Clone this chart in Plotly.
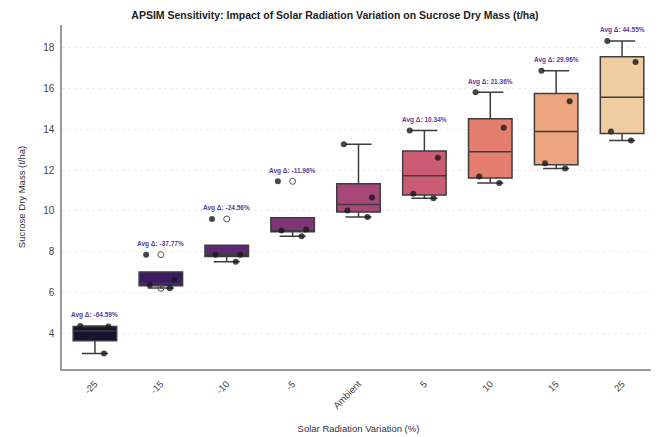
import colorsys
import plotly.graph_objects as go

# ---------------- data ----------------
categories = ["-25", "-15", "-10", "-5", "Ambient", "5", "10", "15", "25"]

points_m25 = [4.35, 4.33, 3.80, 3.00]
points_m15 = [7.85, 6.63, 6.36, 6.20]
points_m10 = [9.60, 7.85, 7.85, 7.50]
points_m5 = [11.45, 9.09, 9.04, 8.75]
points_amb = [13.27, 10.65, 10.02, 9.70]
points_p5 = [13.94, 12.60, 10.84, 10.62]
points_p10 = [15.82, 14.08, 11.69, 11.37]
points_p15 = [16.88, 15.38, 12.33, 12.08]
points_p25 = [18.34, 17.30, 13.90, 13.45]

q1_values = [3.63, 6.33, 7.76, 8.97, 9.95, 10.78, 11.61, 12.26, 13.79]
median_values = [4.10, 6.44, 7.85, 9.02, 10.31, 11.72, 12.90, 13.89, 15.58]
q3_values = [4.33, 7.00, 8.31, 9.66, 11.33, 12.94, 14.52, 15.76, 17.56]
lower_whisker = [3.00, 6.22, 7.50, 8.75, 9.70, 10.62, 11.37, 12.08, 13.45]
upper_whisker = [4.35, 7.00, 8.31, 9.66, 13.27, 13.94, 15.82, 16.88, 18.34]

avg_delta_labels = ["Avg Δ: -64.59%", "Avg Δ: -37.77%", "Avg Δ: -24.56%", "Avg Δ: -11.96%",
                    "", "Avg Δ: 10.34%", "Avg Δ: 21.36%", "Avg Δ: 29.96%", "Avg Δ: 44.55%"]

all_points = [points_m25, points_m15, points_m10, points_m5, points_amb,
              points_p5, points_p10, points_p15, points_p25]

# ---------------- style ----------------
magma9 = ["#140e36", "#3b0f70", "#641a80", "#8c2981", "#b73779",
          "#de4968", "#f7705c", "#fe9f6d", "#fecf92"]


def desaturate(hexcol, prop=0.75):
    h = hexcol.lstrip("#")
    r, g, b = (int(h[i:i + 2], 16) / 255 for i in (0, 2, 4))
    hh, ll, ss = colorsys.rgb_to_hls(r, g, b)
    r, g, b = colorsys.hls_to_rgb(hh, ll, ss * prop)
    return "rgb(%d,%d,%d)" % (round(r * 255), round(g * 255), round(b * 255))


box_colors = [desaturate(c) for c in magma9]
FONT = "Liberation Sans, Arial, sans-serif"
EDGE = "#3d3d3d"
W, H = 659, 437

fig = go.Figure()

for i, cat in enumerate(categories):
    fig.add_trace(go.Box(
        x=[cat], q1=[q1_values[i]], median=[median_values[i]], q3=[q3_values[i]],
        lowerfence=[lower_whisker[i]], upperfence=[upper_whisker[i]],
        fillcolor=box_colors[i], line=dict(color=EDGE, width=1.5),
        width=0.66, whiskerwidth=0.6, boxpoints=False,
        showlegend=False, hoverinfo="skip"))

# fliers (hollow, at box centre)
for i, cat in enumerate(categories):
    outl = [v for v in all_points[i] if v > upper_whisker[i] + 1e-9 or v < lower_whisker[i] - 1e-9]
    if outl:
        fig.add_trace(go.Scatter(
            x=[cat] * len(outl), y=outl, mode="markers",
            marker=dict(symbol="circle-open", size=6, color="#555555", line=dict(width=1)),
            showlegend=False, hoverinfo="skip"))

# strip points
for i, cat in enumerate(categories):
    fig.add_trace(go.Box(
        x=[cat] * len(all_points[i]), y=all_points[i],
        boxpoints="all", jitter=0.8, pointpos=0, width=0.66,
        fillcolor="rgba(0,0,0,0)", line=dict(color="rgba(0,0,0,0)", width=0),
        marker=dict(color="rgba(25,25,25,0.8)", size=6),
        showlegend=False, hoveron="points"))

for i, cat in enumerate(categories):
    if avg_delta_labels[i]:
        fig.add_annotation(
            x=i, y=max(all_points[i]) + 0.52, text="<b>" + avg_delta_labels[i] + "</b>",
            showarrow=False, yanchor="middle", xanchor="center",
            font=dict(family=FONT, size=6.5, color="#5e3c99"))

fig.update_layout(
    width=W, height=H,
    margin=dict(l=40, r=12, t=17, b=74),
    paper_bgcolor="white", plot_bgcolor="white",
    boxmode="overlay",
    font=dict(family=FONT, color="#333333"),
    title=dict(text="<b>APSIM Sensitivity: Impact of Solar Radiation Variation on Sucrose Dry Mass (t/ha)</b>",
               x=(335 - 8) / W, xanchor="center", y=1 - 7 / H, yanchor="middle",
               font=dict(family=FONT, size=10.5, color="#222222")),
)

fig.update_xaxes(
    type="category", categoryorder="array", categoryarray=categories,
    range=[-0.5, 8.5], showgrid=False, zeroline=False,
    showline=True, linecolor="#999999", linewidth=1.5,
    tickangle=-45, ticklabelstandoff=4, tickfont=dict(family=FONT, size=9.5, color="#444444"),
    title=dict(text="Solar Radiation Variation (%)", font=dict(family=FONT, size=9.5, color="#333333"),
               standoff=16),
)

fig.update_yaxes(
    range=[2.24, 19.12], tick0=0, dtick=2,
    showgrid=True, gridcolor="#ececec", griddash="dot", gridwidth=0.8,
    zeroline=False, showline=True, linecolor="#999999", linewidth=1.5,
    ticks="", ticklabelstandoff=4, tickfont=dict(family=FONT, size=10, color="#444444"),
    title=dict(text="Sucrose Dry Mass (t/ha)", font=dict(family=FONT, size=9.5, color="#333333"),
               standoff=16),
)

fig.write_html("out.html")
